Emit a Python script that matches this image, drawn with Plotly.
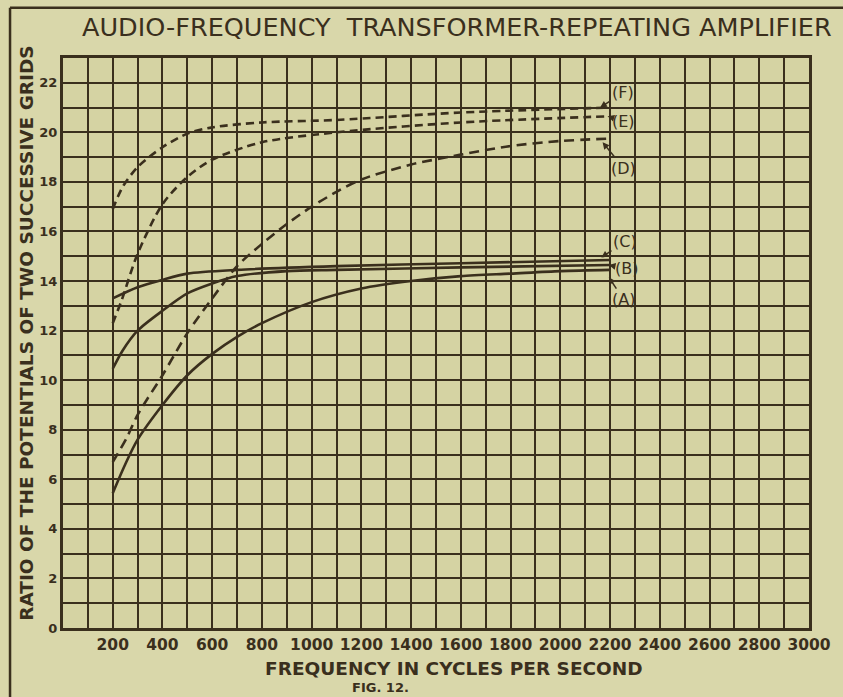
import plotly.graph_objects as go

# Frequency (cycles per second) and voltage-ratio readings for each curve
freq_a = [200, 250, 300, 400, 500, 600, 700, 800, 1000, 1200, 1400, 1600, 1800, 2000, 2200]
ratio_a = [5.44, 6.6, 7.6, 9.0, 10.2, 11.06, 11.75, 12.3, 13.15, 13.7, 14.0, 14.2, 14.3, 14.4, 14.45]

freq_b = [200, 240, 300, 400, 500, 600, 700, 900, 1100, 1600, 2200]
ratio_b = [10.46, 11.2, 12.0, 12.8, 13.5, 13.9, 14.2, 14.4, 14.45, 14.55, 14.65]

freq_c = [200, 300, 400, 500, 700, 1100, 1600, 2200]
ratio_c = [13.3, 13.75, 14.05, 14.3, 14.45, 14.6, 14.72, 14.85]

freq_d = [200, 255, 300, 400, 500, 600, 700, 800, 900, 1000, 1100, 1200, 1400, 1600, 1800, 2000, 2200]
ratio_d = [6.7, 7.65, 8.6, 10.2, 11.9, 13.3, 14.6, 15.5, 16.3, 17.0, 17.6, 18.1, 18.7, 19.1, 19.45, 19.65, 19.75]

freq_e = [200, 235, 300, 400, 500, 600, 800, 1100, 1600, 2200]
ratio_e = [12.3, 13.2, 15.1, 17.1, 18.2, 18.9, 19.6, 20.0, 20.4, 20.65]

freq_f = [200, 240, 300, 400, 500, 600, 800, 1100, 1600, 2200]
ratio_f = [16.9, 17.8, 18.6, 19.4, 19.95, 20.2, 20.4, 20.5, 20.8, 21.0]

x_tick_vals = [200, 400, 600, 800, 1000, 1200, 1400, 1600, 1800, 2000, 2200, 2400, 2600, 2800, 3000]
x_tick_text = [str(v) for v in x_tick_vals]
y_tick_vals = [0, 2, 4, 6, 8, 10, 12, 14, 16, 18, 20, 22]

INK = "#3a2f1d"
PAPER = "#d9d7aa"
FONT = "DejaVu Sans"

fig = go.Figure()

curves = [
    (freq_f, ratio_f, "F", "8px,5px"),
    (freq_e, ratio_e, "E", "8px,5px"),
    (freq_d, ratio_d, "D", "10px,6px"),
    (freq_c, ratio_c, "C", "solid"),
    (freq_b, ratio_b, "B", "solid"),
    (freq_a, ratio_a, "A", "solid"),
]
for fx, fy, name, dash in curves:
    fig.add_trace(go.Scatter(
        x=fx, y=fy, mode="lines", name=name,
        line=dict(color=INK, width=2.6, dash=dash, shape="spline", smoothing=0.8),
        showlegend=False, hoverinfo="skip",
    ))

# Curve letters with leader arrows to the ends of the curves
labels = [
    ("(F)", 2160, 21.0, 2250, 21.6),
    ("(E)", 2190, 20.65, 2255, 20.45),
    ("(D)", 2170, 19.6, 2255, 18.55),
    ("(C)", 2165, 14.95, 2260, 15.6),
    ("(B)", 2195, 14.65, 2265, 14.5),
    ("(A)", 2195, 14.15, 2255, 13.25),
]
for text, hx, hy, tx, ty in labels:
    fig.add_annotation(
        x=hx, y=hy, ax=tx, ay=ty, xref="x", yref="y", axref="x", ayref="y",
        text=text, showarrow=True, arrowhead=2, arrowsize=0.9, arrowwidth=1.5,
        arrowcolor=INK, font=dict(family=FONT, size=16, color=INK),
    )

fig.add_annotation(
    text="AUDIO-FREQUENCY  TRANSFORMER-REPEATING AMPLIFIER",
    xref="paper", yref="paper", x=0.528, y=1.054, showarrow=False,
    font=dict(family=FONT, size=25.5, color=INK), xanchor="center", yanchor="middle",
)
fig.add_annotation(
    text="<b>RATIO OF THE POTENTIALS OF TWO SUCCESSIVE GRIDS</b>",
    xref="paper", yref="paper", x=-0.049, y=0.517, textangle=-90, showarrow=False,
    font=dict(family=FONT, size=18.5, color=INK), xanchor="center", yanchor="middle",
)
fig.add_annotation(
    text="<b>FREQUENCY IN CYCLES PER SECOND</b>",
    xref="paper", yref="paper", x=0.524, y=-0.071, showarrow=False,
    font=dict(family=FONT, size=18.5, color=INK), xanchor="center", yanchor="middle",
)
fig.add_annotation(
    text="<b>FIG. 12.</b>",
    xref="paper", yref="paper", x=0.425, y=-0.104, showarrow=False,
    font=dict(family=FONT, size=13, color=INK), xanchor="center", yanchor="middle",
)

# Outer frame of the plate (top and left rules)
fig.add_shape(type="line", xref="paper", yref="paper", x0=-0.071, x1=1.1, y0=1.088, y1=1.088,
              line=dict(color=INK, width=2.5))
fig.add_shape(type="line", xref="paper", yref="paper", x0=-0.071, x1=-0.071, y0=1.088, y1=-0.13,
              line=dict(color=INK, width=2.5))

fig.update_xaxes(
    range=[0, 3000], tickmode="array", tickvals=x_tick_vals, ticktext=x_tick_text,
    showgrid=True, gridcolor=INK, gridwidth=2, zeroline=False,
    showline=True, linecolor=INK, linewidth=3, mirror=True, ticks="",
    tickfont=dict(family=FONT, size=15.5, color=INK, weight="bold"),
    minor=dict(tickmode="linear", tick0=0, dtick=100, showgrid=True, gridcolor=INK, gridwidth=2, ticks=""),
)
fig.update_yaxes(
    range=[0, 23], tickmode="array", tickvals=y_tick_vals,
    showgrid=True, gridcolor=INK, gridwidth=2, zeroline=False,
    showline=True, linecolor=INK, linewidth=3, mirror=True, ticks="",
    tickfont=dict(family=FONT, size=13, color=INK, weight="bold"),
    minor=dict(tickmode="linear", tick0=0, dtick=1, showgrid=True, gridcolor=INK, gridwidth=2, ticks=""),
)

fig.update_layout(
    width=843, height=697,
    margin=dict(l=63, r=34, t=58, b=69),
    paper_bgcolor=PAPER, plot_bgcolor="#d5d3a3",
)

fig.write_html("out.html")
